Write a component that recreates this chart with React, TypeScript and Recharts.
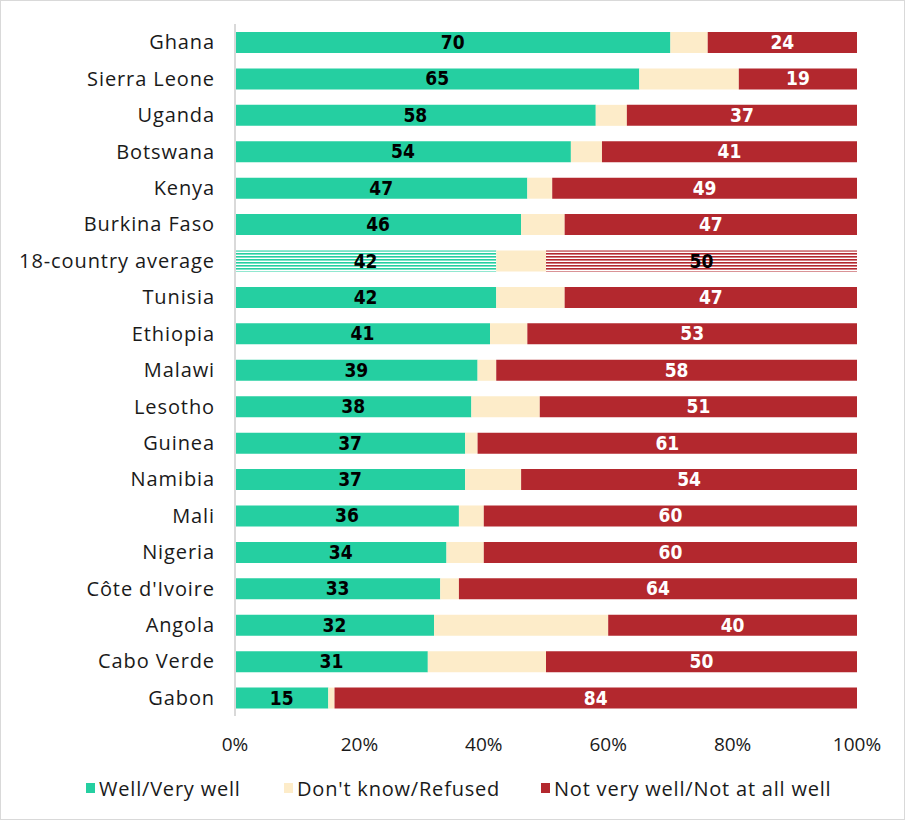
import React from "react";
import { BarChart, Bar, XAxis, YAxis, LabelList, Cell } from "recharts";

// Survey shares by country, in percent. The average row is drawn hatched.
const COUNTRIES = [
  "Ghana",
  "Sierra Leone",
  "Uganda",
  "Botswana",
  "Kenya",
  "Burkina Faso",
  "18-country average",
  "Tunisia",
  "Ethiopia",
  "Malawi",
  "Lesotho",
  "Guinea",
  "Namibia",
  "Mali",
  "Nigeria",
  "Côte d'Ivoire",
  "Angola",
  "Cabo Verde",
  "Gabon",
];
const WELL = [70, 65, 58, 54, 47, 46, 42, 42, 41, 39, 38, 37, 37, 36, 34, 33, 32, 31, 15];
const DONT_KNOW = [6, 16, 5, 5, 4, 7, 8, 11, 6, 3, 11, 2, 9, 4, 6, 3, 28, 19, 1];
const NOT_WELL = [24, 19, 37, 41, 49, 47, 50, 47, 53, 58, 51, 61, 54, 60, 60, 64, 40, 50, 84];
const X_TICKS = [0, 20, 40, 60, 80, 100];
const AVERAGE = "18-country average";

const GREEN = "#25cfa1";
const CREAM = "#fdecc9";
const RED = "#b3282e";

const TEXT_FONT = "'Open Sans', Lato, sans-serif";
const LABEL_FONT = "'DejaVu Sans Condensed', 'DejaVu Sans', sans-serif";

const data = COUNTRIES.map((name, i) => ({
  name,
  well: WELL[i],
  dk: DONT_KNOW[i],
  notWell: NOT_WELL[i],
}));

const LEGEND_ITEMS = [
  { label: "Well/Very well", color: GREEN, left: 85 },
  { label: "Don't know/Refused", color: CREAM, left: 283 },
  { label: "Not very well/Not at all well", color: RED, left: 540 },
];

function makeLabel(defaultColor: string, averageColor: string) {
  return (props: any) => {
    const { x, y, width, height, value, index } = props;
    const isAvg = COUNTRIES[index] === AVERAGE;
    return (
      <text
        x={x + width / 2}
        y={y + height / 2 + 1}
        textAnchor="middle"
        dominantBaseline="middle"
        fill={isAvg ? averageColor : defaultColor}
        fontFamily={LABEL_FONT}
        fontWeight="bold"
        fontSize={19}
      >
        {value}
      </text>
    );
  };
}

function LegendRow() {
  return (
    <div
      style={{
        position: "absolute",
        top: 775,
        left: 0,
        height: 24,
        width: 903,
        fontFamily: TEXT_FONT,
        fontSize: 20,
        letterSpacing: 0.8,
        color: "#1a1a1a",
      }}
    >
      {LEGEND_ITEMS.map((item) => (
        <div
          key={item.label}
          style={{
            position: "absolute",
            left: item.left,
            top: 0,
            height: 24,
            display: "flex",
            alignItems: "center",
            whiteSpace: "nowrap",
          }}
        >
          <span
            style={{
              width: 9,
              height: 10,
              background: item.color,
              marginRight: 4,
              display: "inline-block",
            }}
          />
          {item.label}
        </div>
      ))}
    </div>
  );
}

export default function App() {
  return (
    <div
      style={{
        position: "absolute",
        top: 0,
        left: 0,
        width: 903,
        height: 818,
        border: "1px solid #d9d9d9",
        background: "#fff",
      }}
    >
      <BarChart
        width={903}
        height={818}
        data={data}
        layout="vertical"
        barSize={21}
        margin={{ top: 23, right: 47, left: 0, bottom: 55 }}
      >
        <defs>
          <pattern id="hatchGreen" width="4" height="3" patternUnits="userSpaceOnUse">
            <rect width="4" height="3" fill="#ffffff" />
            <rect width="4" height="1.6" fill={GREEN} />
          </pattern>
          <pattern id="hatchRed" width="4" height="3" patternUnits="userSpaceOnUse">
            <rect width="4" height="3" fill="#ffffff" />
            <rect width="4" height="1.6" fill={RED} />
          </pattern>
        </defs>
        <XAxis
          type="number"
          domain={[0, 100]}
          ticks={X_TICKS}
          tickFormatter={(v) => `${v}%`}
          axisLine={false}
          tickLine={false}
          tickMargin={16}
          height={48}
          tick={{ fill: "#1a1a1a", fontSize: 19, fontFamily: TEXT_FONT }}
        />
        <YAxis
          type="category"
          dataKey="name"
          width={234}
          axisLine={{ stroke: "#d9d9d9", strokeWidth: 2 }}
          tickLine={false}
          tickSize={0}
          tickMargin={20}
          interval={0}
          tick={{
            fill: "#1a1a1a",
            fontSize: 20,
            fontFamily: TEXT_FONT,
            letterSpacing: 0.9,
          }}
        />
        <Bar dataKey="well" stackId="a" fill={GREEN} isAnimationActive={false}>
          {data.map((d) => (
            <Cell key={d.name} fill={d.name === AVERAGE ? "url(#hatchGreen)" : GREEN} />
          ))}
          <LabelList dataKey="well" content={makeLabel("#000", "#000")} />
        </Bar>
        <Bar dataKey="dk" stackId="a" fill={CREAM} isAnimationActive={false} />
        <Bar dataKey="notWell" stackId="a" fill={RED} isAnimationActive={false}>
          {data.map((d) => (
            <Cell key={d.name} fill={d.name === AVERAGE ? "url(#hatchRed)" : RED} />
          ))}
          <LabelList dataKey="notWell" content={makeLabel("#fff", "#000")} />
        </Bar>
      </BarChart>
      <LegendRow />
    </div>
  );
}
